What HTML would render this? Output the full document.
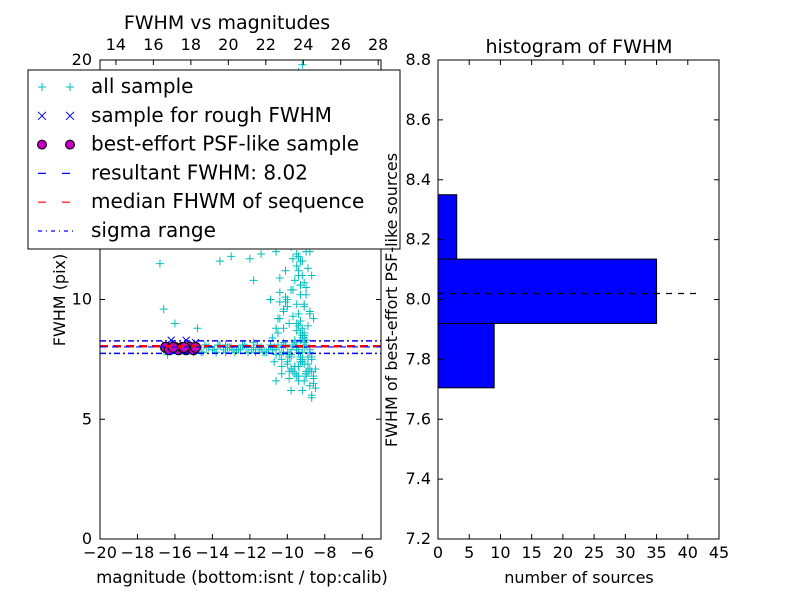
<!DOCTYPE html>
<html><head><meta charset="utf-8"><style>
html,body{margin:0;padding:0;background:#fff}
svg{display:block;font-family:"DejaVu Sans","Liberation Sans",sans-serif}
</style></head><body>
<svg id="c" width="800" height="600" viewBox="0 0 800 600" xmlns="http://www.w3.org/2000/svg"></svg>
<script>
// ---- data ----
const allMag=[-16.6,-16.2,-15.8,-15.5,-15.2,-14.9,-14.6,-14.3,-14.0,-13.7,-13.4,-13.1,-12.8,-12.5,-12.2,-11.9,-11.6,-11.3,-11.0,-10.7,-10.4,-10.1,-9.8,-9.5,-9.2,-9.0,-8.8,
-16.4,-15.0,-13.3,-12.6,-11.8,-11.1,-10.6,-10.2,-9.9,-9.6,-9.3,-9.1,-8.9,
-16.8,-16.6,-16.0,-14.8,-13.0,-12.5,-13.5,-11.4,-11.8,-10.6,-10.4,-10.1,-9.9,-9.7,-9.5,-9.3,-9.2,-9.1,-9.0,-8.9,-8.8,-8.7,-8.6,
-10.3,-10.0,-9.8,-9.6,-9.4,-9.2,-9.0,-8.9,-8.7,-10.5,-10.2,-9.9,-9.7,-9.5,-9.3,-9.1,-8.9,-9.8,-9.6,-9.4,-9.2,-9.0,-9.5,-9.3,-9.1,-8.9,-9.7,-9.4,-9.2,
-10.4,-10.0,-9.7,-9.4,-9.2,-9.0,-8.8,-8.6,-8.5,-8.7,-9.6,-9.3,-9.1,-8.9,-8.7,-10.2,-9.8,-12.0,-11.2,-13.6,-10.9,-10.5,-9.4,-9.0,-8.7,-9.5,-9.1,-8.8,-8.6,-10.1,
-14.5,-14.2,-13.9,-13.6,-13.3,-13.0,-12.7,-12.4,-12.1,-11.8,-11.5,-11.2,-10.9,-10.6,-10.3,-10.0,-9.7,-9.4,-9.1,-8.8,
-14.4,-13.8,-13.2,-12.9,-12.3,-11.7,-11.4,-10.8,-10.5,-10.2,-9.9,-9.6,-9.3,-9.0,
-10.8,-10.6,-10.4,-10.2,-10.0,-9.8,-9.6,-9.4,-9.2,-9.0,-10.7,-10.3,-9.9,-9.5,-9.1,-10.1,-9.7,-9.3,-8.9,
-9.9,-9.7,-9.5,-9.3,-9.1,-9.6,-9.4,-9.2,-9.0,-9.8,-9.5,-9.3,-9.1,-9.4,-9.2,-9.0,-9.3,-9.1,-9.6,-9.4,-9.2,-9.0,-8.8,-9.5,-9.3,-9.1,-8.9,-8.7,-8.6,-8.8,-9.0,-8.9,-8.7,-8.5,
-10.6,-10.3,-10.0,-9.8,-9.6,-9.4,-9.2,-9.9,-9.7,-9.5,-9.3,-9.1,-10.4,-10.1,-9.8,-9.5,-9.2,-8.9,
-9.5,-9.3,-9.1,-9.4,-9.2,-9.6,-9.3,-9.0,-9.5,-9.2,-9.4,-9.1,-9.3,-9.5,-9.2,-9.4,-9.6,-9.3,-9.1,-9.4];
const allFwhm=[7.9,8.0,7.9,8.0,7.9,8.0,7.8,8.0,7.9,8.1,7.9,8.0,7.8,7.9,8.0,7.9,8.1,7.8,7.9,8.0,7.7,8.1,7.9,8.0,7.8,8.1,7.9,
7.7,7.8,8.1,7.9,8.2,7.8,7.7,8.2,7.6,8.3,7.5,8.4,7.6,
11.5,9.6,9.0,8.8,11.8,12.3,12.9,11.9,10.8,12.0,10.9,10.1,13.2,11.7,12.6,10.6,14.4,13.0,15.6,16.5,12.0,11.0,9.2,
7.5,7.3,7.1,6.9,7.2,7.4,6.8,7.0,7.5,8.6,8.8,9.0,9.3,9.8,10.2,10.7,11.3,7.6,7.2,6.6,6.2,7.0,7.9,8.3,8.5,8.9,12.4,14.1,17.4,
9.9,9.7,10.4,11.0,13.8,15.3,9.5,6.7,6.3,6.0,19.2,18.3,17.0,15.8,14.7,9.5,6.2,11.7,13.1,11.6,10.0,9.2,7.2,6.9,5.9,8.0,8.6,7.1,6.5,11.2,
7.8,8.0,7.9,8.1,7.8,8.0,7.9,8.1,7.8,8.0,7.9,7.8,8.1,7.9,8.0,7.8,8.1,7.9,8.0,7.8,
8.1,7.8,8.0,7.9,8.1,7.8,8.0,7.9,8.1,7.8,7.7,8.2,7.6,8.3,
8.4,8.8,9.2,9.6,10.0,10.4,10.8,11.2,11.6,12.0,7.4,7.2,7.0,6.8,6.6,12.8,13.6,14.5,15.5,
16.0,16.8,17.6,18.2,19.0,13.4,14.0,14.8,15.2,12.2,11.4,10.6,9.8,8.9,8.5,8.1,7.4,7.3,12.6,11.8,11.0,10.2,9.4,9.0,8.6,8.2,7.6,7.0,6.8,6.4,
6.9,7.3,7.6,7.1,6.6,6.9,7.4,7.7,7.2,6.8,7.5,6.7,7.0,8.7,9.1,9.7,10.3,9.9,
12.3,13.1,14.2,15.0,16.3,17.2,18.0,19.5,19.8,12.9,11.6,10.5,11.9,8.4,9.4,13.5,14.9,16.7,8.8,7.8];
const roughMag=[-16.2,-15.4,-15.0,-16.5,-14.9];
const roughFwhm=[8.3,8.3,8.1,8.1,8.2];
const bestMag=[-16.5,-16.3,-16.0,-15.8,-15.6,-15.4,-15.2,-15.0,-14.9,-16.1,-15.5];
const bestFwhm=[8.0,7.9,8.0,7.9,8.0,7.9,8.0,7.9,8.0,8.0,8.0];
const resultFwhm=8.02, medianFwhm=8.05, sigmaLo=7.75, sigmaHi=8.27;
const binEdges=[7.705,7.92,8.135,8.35];
const binCounts=[9,35,3];
const xTicksL=[-20,-18,-16,-14,-12,-10,-8,-6];
const xTicksTop=[14,16,18,20,22,24,26,28];
const yTicksL=[0,5,10,15,20];
const xTicksR=[0,5,10,15,20,25,30,35,40,45];
const yTicksR=[7.2,7.4,7.6,7.8,8.0,8.2,8.4,8.6,8.8];

const NS="http://www.w3.org/2000/svg";
const svg=document.getElementById('c');
function mk(tag,at,parent){const e=document.createElementNS(NS,tag);for(const k in at)e.setAttribute(k,at[k]);(parent||svg).appendChild(e);return e;}
function txt(s,x,y,size,anchor,name,rot){const e=mk('text',{x:x,y:y,'font-size':size,'text-anchor':anchor||'middle',fill:'#000'});if(rot)e.setAttribute('transform',`rotate(-90 ${x} ${y})`);e.textContent=s;


return e;}

const L={x0:100,x1:381,y0:60,y1:539};
const lx=v=>L.x0+(v-(-20))/15*(L.x1-L.x0);
const ly=v=>L.y1-(v/20)*(L.y1-L.y0);
const topOff=33.15;
const tx=v=>lx(v-topOff);
const clipL=mk('clipPath',{id:'clipL'});mk('rect',{x:L.x0,y:L.y0,width:L.x1-L.x0,height:L.y1-L.y0},clipL);
const gL=mk('g',{'clip-path':'url(#clipL)'});


allMag.forEach((m,i)=>{const x=lx(m),y=ly(allFwhm[i]);
const p=mk('path',{d:`M${x-4} ${y}H${x+4}M${x} ${y-4}V${y+4}`,stroke:'#00bfbf','stroke-width':1},gL);

});
roughMag.forEach((m,i)=>{const x=lx(m),y=ly(roughFwhm[i]);
const p=mk('path',{d:`M${x-3.5} ${y-3.5}L${x+3.5} ${y+3.5}M${x-3.5} ${y+3.5}L${x+3.5} ${y-3.5}`,stroke:'#0000ff','stroke-width':1},gL);

});
bestMag.forEach((m,i)=>{const c=mk('circle',{cx:lx(m),cy:ly(bestFwhm[i]),r:5,fill:'#bf00bf',stroke:'#000','stroke-width':1},gL);

});
function hline(v,color,dash,name,w){const l=mk('line',{x1:L.x0,x2:L.x1,y1:ly(v),y2:ly(v),stroke:color,'stroke-width':w||1.5,'stroke-dasharray':dash},gL);

}
hline(sigmaHi,'#0000ff','6 3 2 3','sigma-high-line',1.5);
hline(sigmaLo,'#0000ff','6 3 2 3','sigma-low-line',1.5);
hline(medianFwhm,'#ff0000','8 5','median-line',2.5);
hline(resultFwhm,'#0000ff','6 6','resultant-line',1.2);
const fL=mk('rect',{x:L.x0,y:L.y0,width:L.x1-L.x0,height:L.y1-L.y0,fill:'none',stroke:'#000'});


xTicksL.forEach(v=>{const x=lx(v);mk('path',{d:`M${x} ${L.y1}v-5`,stroke:'#000'});txt('\u2212'+Math.abs(v),x,558,16,'middle','x-tick-label');});
xTicksTop.forEach(v=>{const x=tx(v);mk('path',{d:`M${x} ${L.y0}v5`,stroke:'#000'});txt(String(v),x,50,16,'middle','top-x-tick-label');});
yTicksL.forEach(v=>{const y=ly(v);mk('path',{d:`M${L.x0} ${y}h5M${L.x1} ${y}h-5`,stroke:'#000'});txt(String(v),92,y+5,16,'end','y-tick-label');});
txt('magnitude (bottom:isnt / top:calib)',242,583,16.6,'middle','x-axis-title');
txt('FWHM (pix)',65,300,16,'middle','y-axis-title',true);
txt('FWHM vs magnitudes',227,29,19,'middle','left-chart-title');

const lg=mk('g',{});


mk('rect',{x:28,y:70,width:372,height:179,fill:'#fff',stroke:'#000'},lg);
const rows=[['all sample','plus'],['sample for rough FWHM','x'],['best-effort PSF-like sample','circle'],['resultant FWHM: 8.02','blue'],['median FHWM of sequence','red'],['sigma range','dashdot']];
rows.forEach((r,i)=>{const y=87+i*28.8;const g=mk('g',{},lg);


[42,70].forEach(x=>{
 if(r[1]==='plus')mk('path',{d:`M${x-4} ${y}H${x+4}M${x} ${y-4}V${y+4}`,stroke:'#00bfbf'},g);
 if(r[1]==='x')mk('path',{d:`M${x-4} ${y-4}L${x+4} ${y+4}M${x-4} ${y+4}L${x+4} ${y-4}`,stroke:'#0000ff'},g);
 if(r[1]==='circle')mk('circle',{cx:x,cy:y,r:4.5,fill:'#bf00bf',stroke:'#000'},g);});
if(r[1]==='blue')mk('line',{x1:38,x2:74,y1:y,y2:y,stroke:'#0000ff','stroke-dasharray':'8 16','stroke-width':1.2},g);
if(r[1]==='red')mk('line',{x1:38,x2:74,y1:y,y2:y,stroke:'#ff0000','stroke-dasharray':'8 16','stroke-width':1.2},g);
if(r[1]==='dashdot')mk('line',{x1:38,x2:74,y1:y,y2:y,stroke:'#0000ff','stroke-dasharray':'4 4 1 4','stroke-width':1.2},g);
const t=mk('text',{x:91,y:y+6,'font-size':20,fill:'#000'},g);t.textContent=r[0];});

const R={x0:438,x1:719,y0:60,y1:539};
const rx=v=>R.x0+v/45*(R.x1-R.x0);
const ry=v=>R.y1-(v-7.2)/1.6*(R.y1-R.y0);
binCounts.forEach((c,i)=>{const y0=ry(binEdges[i+1]),y1=ry(binEdges[i]);
const b=mk('rect',{x:rx(0),y:y0,width:rx(c)-rx(0),height:y1-y0,fill:'#0000ff',stroke:'#000'});

});
const dl=mk('line',{x1:rx(0),x2:rx(41.5),y1:ry(resultFwhm),y2:ry(resultFwhm),stroke:'#000','stroke-dasharray':'6 6','stroke-width':1.2});


const fR=mk('rect',{x:R.x0,y:R.y0,width:R.x1-R.x0,height:R.y1-R.y0,fill:'none',stroke:'#000'});


xTicksR.forEach(v=>{const x=rx(v);mk('path',{d:`M${x} ${R.y1}v-5M${x} ${R.y0}v5`,stroke:'#000'});txt(String(v),x,558,16,'middle','hist-x-tick-label');});
yTicksR.forEach(v=>{const y=ry(v);mk('path',{d:`M${R.x0} ${y}h5M${R.x1} ${y}h-5`,stroke:'#000'});txt(v.toFixed(1),431,y+5,16,'end','hist-y-tick-label');});
txt('number of sources',579,583,16,'middle','hist-x-axis-title');
txt('FWHM of best-effort PSF-like sources',397,300,16,'middle','hist-y-axis-title',true);
txt('histogram of FWHM',579,53,19,'middle','right-chart-title');
</script>
</body></html>
